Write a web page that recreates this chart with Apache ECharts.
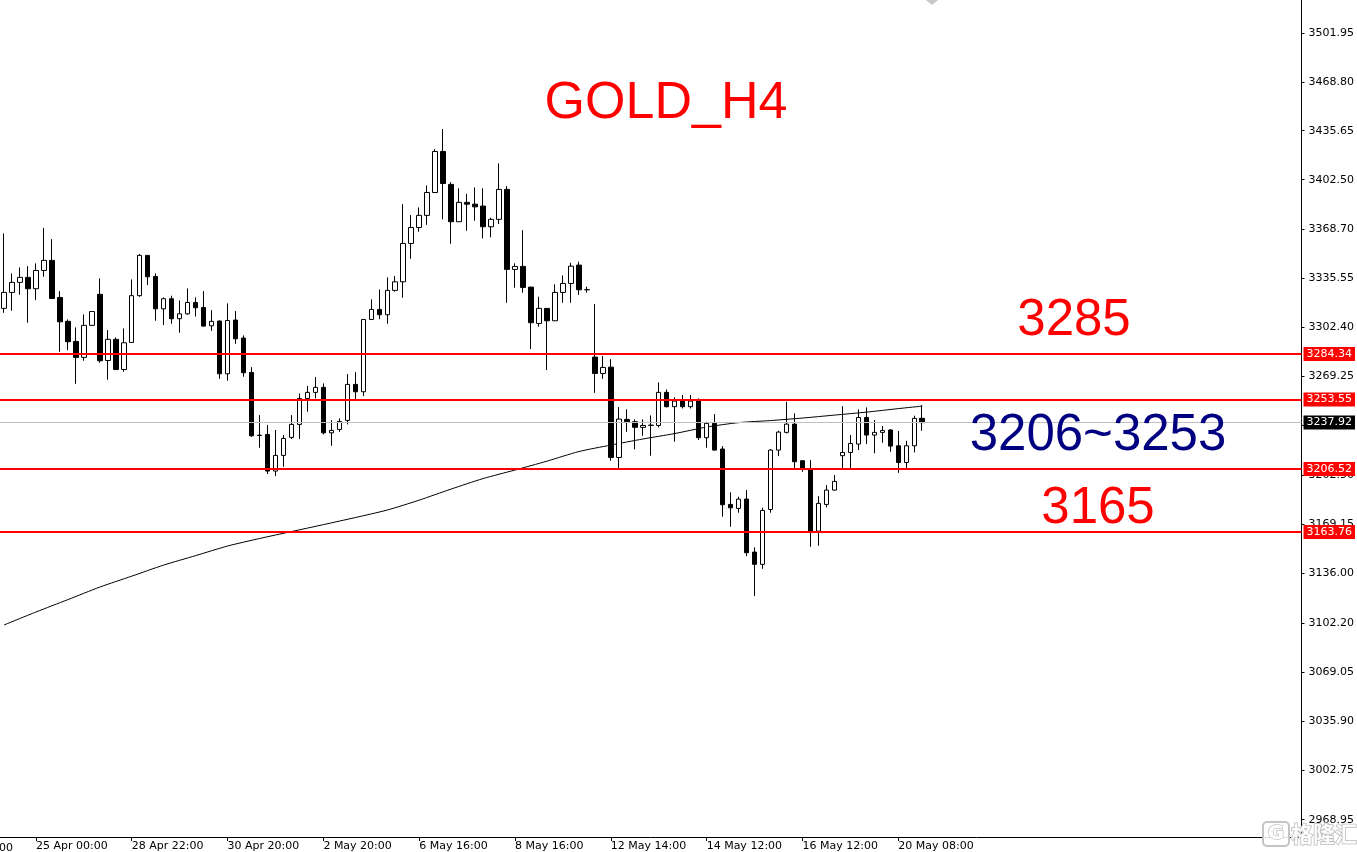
<!DOCTYPE html>
<html>
<head>
<meta charset="utf-8">
<script src="https://cdn.jsdelivr.net/npm/echarts@6/dist/echarts.min.js"></script>
<style>
html,body{margin:0;padding:0;background:#fff;}
#chart{width:1357px;height:852px;}
</style>
</head>
<body>
<div id="chart"></div>
<script>
// ---- data (GOLD H4 candles) ----
var opens = [3315.3,3326.1,3332.9,3336.3,3328.6,3341.0,3347.8,3322.7,3306.5,3292.9,
3282.1,3303.8,3324.8,3280.0,3294.3,3273.9,3292.2,3323.9,3351.2,3336.9,
3315.0,3321.8,3308.3,3311.6,3319.3,3315.9,3303.5,3306.7,3271.0,3307.4,
3295.2,3271.9,3229.4,3229.9,3205.1,3215.7,3227.9,3236.7,3254.3,3258.4,
3261.8,3231.0,3233.3,3239.4,3263.8,3258.8,3307.8,3314.6,3311.0,3327.5,
3333.3,3359.3,3370.1,3378.3,3393.8,3421.6,3399.3,3374.0,3387.1,3385.9,
3384.6,3370.6,3375.6,3395.9,3341.7,3343.7,3329.7,3305.1,3315.3,3306.9,
3326.1,3332.2,3344.6,3327.9,3282.3,3271.2,3275.5,3214.3,3240.1,3238.5,
3234.7,3236.0,3236.0,3258.4,3248.7,3252.5,3248.7,3253.6,3227.7,3237.4,
3220.0,3182.5,3179.8,3186.1,3150.2,3141.9,3179.1,3219.3,3231.3,3236.9,
3212.1,3206.2,3164.4,3182.5,3192.2,3215.5,3217.7,3223.4,3241.4,3229.5,
3231.3,3232.9,3222.2,3210.9,3222.2,3240.8];
var closes = [3326.1,3332.9,3336.3,3328.6,3341.0,3347.8,3322.0,3306.2,3292.7,3282.1,
3303.8,3313.2,3279.8,3294.3,3273.9,3292.0,3323.9,3351.2,3336.7,3315.0,
3321.8,3308.3,3311.6,3319.3,3315.7,3303.3,3306.5,3271.0,3307.1,3294.7,
3271.7,3229.0,3229.2,3205.1,3215.7,3227.2,3236.7,3254.3,3258.4,3261.8,
3231.0,3232.6,3238.7,3263.8,3258.8,3307.8,3314.6,3311.0,3327.5,3333.3,
3359.3,3370.1,3378.3,3393.8,3421.6,3399.9,3374.0,3387.1,3385.9,3384.1,
3370.6,3375.6,3395.9,3341.7,3343.7,3329.5,3305.6,3315.3,3306.9,3326.1,
3332.2,3343.9,3327.9,3328.0,3271.2,3275.3,3214.3,3240.3,3238.5,3234.7,
3236.0,3236.2,3258.4,3248.7,3252.5,3248.7,3252.5,3227.7,3237.4,3219.3,
3182.3,3180.2,3186.1,3149.8,3141.9,3178.4,3219.3,3231.5,3236.9,3211.4,
3206.9,3164.4,3183.2,3192.2,3198.1,3217.7,3223.8,3241.4,3229.5,3231.3,
3232.6,3222.0,3210.9,3222.2,3240.8,3237.9];
var lows = [3312.3,3313.7,3324.5,3305.6,3320.9,3336.7,3321.6,3285.9,3287.0,3264.2,
3279.8,3303.6,3278.5,3267.0,3273.7,3272.4,3292.0,3323.2,3331.1,3306.9,
3304.0,3304.9,3298.8,3311.0,3309.8,3302.9,3300.1,3267.6,3266.3,3291.3,
3269.0,3228.3,3220.9,3203.1,3201.7,3208.0,3226.8,3226.8,3245.3,3254.3,
3229.9,3222.2,3231.7,3236.7,3253.9,3255.9,3307.6,3308.0,3304.9,3326.6,
3322.5,3348.9,3367.2,3371.9,3393.6,3375.6,3359.1,3373.8,3367.9,3374.7,
3362.7,3363.4,3372.4,3319.1,3329.3,3325.9,3287.7,3302.9,3273.5,3306.7,
3319.1,3319.1,3324.5,3325.9,3258.1,3267.6,3212.1,3206.9,3231.7,3219.8,
3229.0,3215.5,3234.7,3248.2,3225.0,3247.5,3247.5,3226.1,3220.9,3218.9,
3174.2,3167.4,3176.9,3147.5,3120.4,3138.9,3176.9,3215.2,3230.6,3206.9,
3204.6,3153.8,3154.5,3180.5,3191.8,3206.9,3206.9,3219.3,3223.4,3217.1,
3224.3,3218.2,3203.9,3206.9,3217.7,3232.4];
var highs = [3366.1,3339.0,3343.0,3343.9,3345.8,3369.7,3362.2,3327.0,3307.8,3302.4,
3311.2,3313.4,3335.6,3300.6,3295.6,3301.7,3334.9,3352.1,3351.4,3339.0,
3322.7,3323.9,3320.7,3328.8,3322.7,3327.0,3314.1,3307.1,3318.7,3313.5,
3297.0,3275.5,3243.0,3236.3,3232.9,3229.5,3243.0,3257.7,3262.7,3268.8,
3264.5,3239.6,3240.8,3270.8,3272.1,3307.8,3321.4,3328.1,3336.3,3337.2,
3385.9,3378.5,3383.7,3398.6,3423.2,3436.8,3400.8,3396.6,3392.9,3397.2,
3396.6,3376.7,3413.5,3398.1,3345.8,3368.3,3329.9,3323.2,3315.5,3331.5,
3337.6,3346.2,3346.9,3330.0,3318.2,3283.0,3280.9,3248.4,3246.9,3240.1,
3240.1,3242.8,3265.1,3260.4,3255.0,3256.6,3256.6,3254.3,3238.5,3243.7,
3222.0,3190.6,3187.7,3192.2,3153.4,3180.2,3220.0,3232.4,3252.0,3244.1,
3212.3,3212.5,3188.1,3195.6,3202.4,3249.1,3229.5,3246.9,3248.2,3239.6,
3235.6,3233.5,3232.2,3225.6,3242.6,3249.8];

// moving average readings (bar index -> value)
var maIndex = [0,4,8,12,16,20,24,28,32,36,40,44,48,52,56,60,64,68,72,76,80,84,88,92,96,100,104,108,112,115];
var maValue = [3100.8,3109.6,3118.0,3126.5,3133.9,3141.4,3147.8,3154.3,3159.4,3164.1,
3168.8,3173.6,3178.7,3185.4,3192.9,3200.0,3205.8,3211.8,3218.3,3222.7,
3226.8,3230.5,3234.9,3237.9,3239.3,3241.0,3243.0,3245.0,3247.4,3249.1];

// x-axis tick labels (bar index -> text)
var xLabelIndex = [4,16,28,40,52,64,76,88,100,112];
var xLabelText = ['25 Apr 00:00','28 Apr 22:00','30 Apr 20:00','2 May 20:00','6 May 16:00',
                  '8 May 16:00','12 May 14:00','14 May 12:00','16 May 12:00','20 May 08:00'];
var slotCount = 163; // bars + right-hand empty shift area

// y-axis tick labels
var yTicks = [3501.95,3468.80,3435.65,3402.50,3368.70,3335.55,3302.40,3269.25,3236.10,
              3202.50,3169.15,3136.00,3102.20,3069.05,3035.90,3002.75,2968.95];

// horizontal levels
var redLevels = [3284.34,3253.55,3206.52,3163.76];
var currentPrice = 3237.92;

// ---- build ----
var categories = [];
for (var i = 0; i < slotCount; i++) categories.push(String(i));
var labelMap = {};
xLabelIndex.forEach(function(idx, k){ labelMap[idx] = xLabelText[k]; });

var candleData = opens.map(function(o, k){ return [o, closes[k], lows[k], highs[k]]; });
var maData = maIndex.map(function(idx, k){ return [idx, maValue[k]]; });

var axisFont = 'DejaVu Sans';
function showIdx(index){ return labelMap[index] !== undefined; }

var markLines = redLevels.map(function(v){
  return {yAxis: v, lineStyle: {color: '#ff0000', width: 2, type: 'solid'},
          label: {backgroundColor: '#ff0000'}};
});
markLines.push({yAxis: currentPrice, lineStyle: {color: '#c0c0c0', width: 1, type: 'solid'},
                label: {backgroundColor: '#000000'}});

var chart = echarts.init(document.getElementById('chart'));
chart.setOption({
  animation: false,
  backgroundColor: '#ffffff',
  grid: {left: -2, right: 54, top: 0, bottom: 15, containLabel: false},
  xAxis: {
    type: 'category',
    data: categories,
    boundaryGap: true,
    axisLine: {show: true, lineStyle: {color: '#000', width: 1}},
    axisTick: {show: true, alignWithLabel: true, interval: showIdx, length: 4, lineStyle: {color: '#000'}},
    axisLabel: {show: true, interval: showIdx, align: 'left', margin: 4,
      formatter: function(v, idx){ return labelMap[idx] || ''; },
      fontSize: 11, fontFamily: axisFont, color: '#000'},
    splitLine: {show: false}
  },
  yAxis: {
    type: 'value',
    position: 'right',
    min: 2957.2,
    max: 3524.2,
    scale: true,
    axisLine: {show: true, lineStyle: {color: '#000', width: 1}},
    axisTick: {show: true, length: 3, customValues: yTicks, lineStyle: {color: '#000'}},
    axisLabel: {show: true, customValues: yTicks, margin: 7, fontSize: 11, fontFamily: axisFont, color: '#000',
      formatter: function(v){ return Number(v).toFixed(2); }},
    splitLine: {show: false}
  },
  series: [
    {
      type: 'line',
      data: maData,
      showSymbol: false,
      symbol: 'none',
      smooth: 0.25,
      lineStyle: {color: '#000', width: 1},
      z: 1,
      silent: true
    },
    {
      type: 'candlestick',
      data: candleData,
      barWidth: 5,
      itemStyle: {color: '#ffffff', color0: '#000000', borderColor: '#000000', borderColor0: '#000000', borderWidth: 1},
      z: 2,
      silent: true,
      markLine: {
        silent: true,
        symbol: 'none',
        animation: false,
        label: {show: true, position: 'end', distance: 2, color: '#fff', fontSize: 11, fontFamily: axisFont,
          padding: [2, 3, 1, 3],
          formatter: function(p){ return Number(p.value).toFixed(2); }},
        data: markLines
      }
    }
  ],
  graphic: [
    {type: 'text', z: 100, style: {x: 666, y: 104, text: 'GOLD_H4', fill: '#ff0000', font: '52px "Liberation Sans", Arial, sans-serif', textAlign: 'center', textVerticalAlign: 'middle'}},
    {type: 'text', z: 100, style: {x: 1074, y: 321, text: '3285', fill: '#ff0000', font: '51px "Liberation Sans", Arial, sans-serif', textAlign: 'center', textVerticalAlign: 'middle'}},
    {type: 'text', z: 100, style: {x: 1098, y: 436, text: '3206~3253', fill: '#000080', font: '51px "Liberation Sans", Arial, sans-serif', textAlign: 'center', textVerticalAlign: 'middle'}},
    {type: 'text', z: 100, style: {x: 1098, y: 509, text: '3165', fill: '#ff0000', font: '51px "Liberation Sans", Arial, sans-serif', textAlign: 'center', textVerticalAlign: 'middle'}},
    {type: 'text', z: 100, style: {x: -1, y: 848, text: '00', fill: '#000', font: '11px "DejaVu Sans"', textAlign: 'left', textVerticalAlign: 'middle'}},
    {type: 'polygon', z: 100, shape: {points: [[926, 0], [938, 0], [932, 5]]}, style: {fill: '#c8c8c8'}},
    {type: 'rect', z: 100, shape: {x: 1263, y: 822, width: 26, height: 24, r: 4}, style: {fill: 'rgba(255,255,255,0.85)', stroke: '#c4c4c4', lineWidth: 2}},
    {type: 'text', z: 101, style: {x: 1276, y: 834, text: 'G', fill: '#ffffff', stroke: '#c4c4c4', lineWidth: 1.5, font: 'bold 20px "DejaVu Sans"', textAlign: 'center', textVerticalAlign: 'middle'}},
    {type: 'text', z: 101, style: {x: 1324, y: 834, text: '格隆汇', fill: 'rgba(255,255,255,0.9)', stroke: '#bdbdbd', lineWidth: 1.5, font: 'bold 22px "Noto Sans CJK SC"', textAlign: 'center', textVerticalAlign: 'middle'}}
  ]
});
</script>
</body>
</html>
